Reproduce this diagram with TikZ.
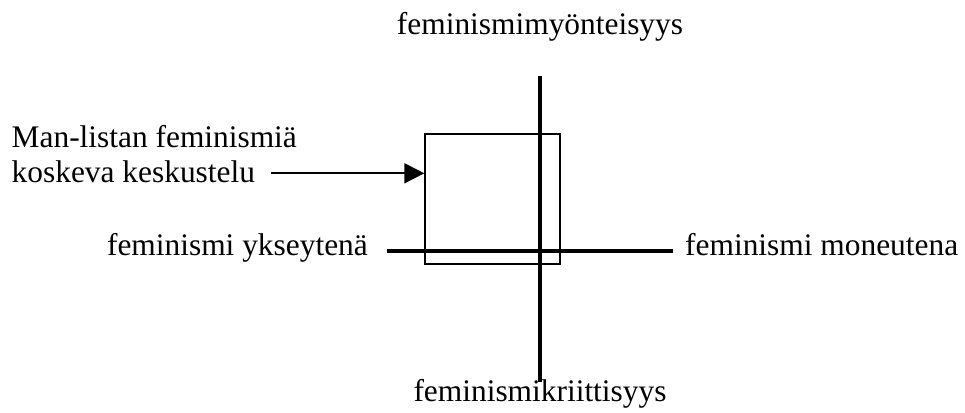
\documentclass[tikz,border=0pt]{standalone}
\usepackage{fontspec}
\setmainfont{Liberation Serif}
\usetikzlibrary{arrows.meta}
\begin{document}
\begin{tikzpicture}[x=1pt,y=-1pt,
  lbl/.style={inner sep=0pt,font=\fontsize{31.4}{35.4}\selectfont},
  axis/.style={line width=4pt},
  boxst/.style={draw,line width=1.6pt},
  arr/.style={line width=1.8pt,-{Triangle[length=20pt,width=20pt]}}]
\useasboundingbox (0,0) rectangle (965,412);
% box
\node[boxst,minimum width=135pt,minimum height=130pt,inner sep=0pt,anchor=north west] (box) at (424.3,133.3) {};
% axes
\coordinate (vtop) at (540,75.7);
\coordinate (vbot) at (540,381.7);
\coordinate (hl) at (387,251);
\coordinate (hr) at (673,251);
\draw[axis] (vtop) -- (vbot);
\draw[axis] (hl) -- (hr);
% labels
\node[lbl,anchor=base] (top) at (540,35) {feminismimyönteisyys};
\node[lbl,anchor=base] (bot) at (540,401.7) {feminismikriittisyys};
\node[lbl,anchor=base east] (left) at (368,255) {feminismi ykseytenä};
\node[lbl,anchor=base west] (right) at (685,255) {feminismi moneutena};
\node[lbl,anchor=base west] (man1) at (11.5,147.3) {Man-listan feminismiä};
\node[lbl,anchor=base west] (man2) at (11.5,182.7) {koskeva keskustelu};
\coordinate (astart) at (271,173.3);
\draw[arr] (astart) -- (box.west |- astart);
\end{tikzpicture}
\end{document}
